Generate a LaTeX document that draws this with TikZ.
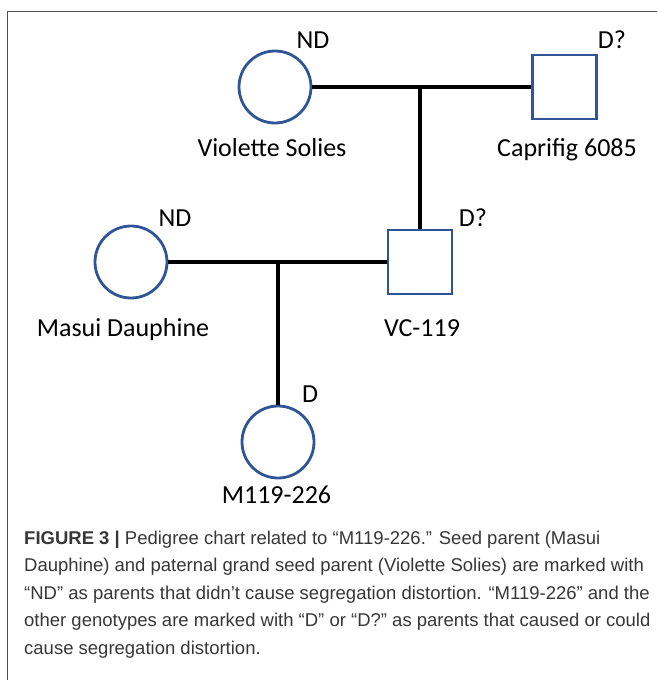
\documentclass[tikz,border=0pt]{standalone}
\usepackage{fontspec}
\setmainfont{Carlito}
\newfontfamily\capfont{Liberation Sans}
\usetikzlibrary{positioning}
\definecolor{pedblue}{RGB}{47,85,151}
\definecolor{framegray}{RGB}{80,80,80}
\definecolor{captext}{RGB}{55,55,55}

\begin{document}
\begin{tikzpicture}[x=1pt, y=1pt, on grid,
  female/.style={circle, draw=pedblue, line width=2.8pt, minimum size=72pt, inner sep=0pt},
  male/.style={rectangle, draw=pedblue, line width=2.8pt, minimum size=64pt, inner sep=0pt},
  geno/.style={font=\fontsize{26}{30}\selectfont, inner sep=0pt, text height=16.6pt, text depth=0pt},
  couple/.style={line width=3.2pt, black},
  caption/.style={font=\capfont\fontsize{18.5}{27.5}\selectfont, text=captext, align=left, inner sep=0pt}]
 \useasboundingbox (0,0) rectangle (657,-680);
 \draw[framegray, line width=1.2pt] (7.7,-680) -- (7.7,-11.5) -- (657,-11.5);

 \node (vs)  [female] at (275,-87) {};
 \node (cf)  [male, right=289.5pt of vs] {};
 \coordinate [right=145pt of vs] (m1);
 \node (vc)  [male, below right=175pt and 145pt of vs] {};
 \node (md)  [female, left=289pt of vc] {};
 \coordinate [right=147pt of md] (m2);
 \node (mc)  [female, below right=180pt and 147pt of md] {};

 \node (vsnd)   [geno, above right=47pt and 38pt of vs] {ND};
 \node (vsname) [geno, below left=61pt and 3pt of vs] {Violette Solies};
 \node (cfd)    [geno, above right=47pt and 47.5pt of cf] {D?};
 \node (cfname) [geno, below right=61pt and 2.5pt of cf] {Caprifig 6085};
 \node (vcd)    [geno, above right=44pt and 53pt of vc] {D?};
 \node (vcname) [geno, below right=66pt and 2pt of vc] {VC-119};
 \node (mdnd)   [geno, above right=44pt and 44pt of md] {ND};
 \node (mdname) [geno, below left=66pt and 8pt of md] {Masui Dauphine};
 \node (mcd)    [geno, above right=48pt and 32pt of mc] {D};
 \node (mcname) [geno, below left=53pt and 1.5pt of mc] {M119-226};

 \draw[couple] (vs) -- (cf);
 \draw[couple] (m1) -- (vc);
 \draw[couple] (md) -- (vc);
 \draw[couple] (m2) -- (mc);

 \node (cap) [caption, anchor=north west] at (24,-530.5)
  {\textbf{FIGURE 3 |} Pedigree chart related to “M119-226.” Seed parent (Masui\\
   Dauphine) and paternal grand seed parent (Violette Solies) are marked with\\
   “ND” as parents that didn’t cause segregation distortion. “M119-226” and the\\
   other genotypes are marked with “D” or “D?” as parents that caused or could\\
   cause segregation distortion.};
\end{tikzpicture}
\end{document}
